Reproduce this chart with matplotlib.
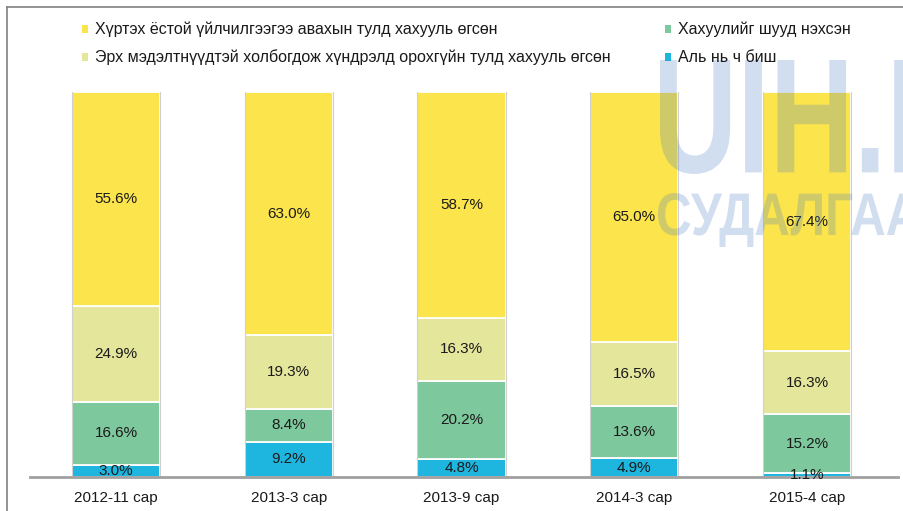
import numpy as np
import matplotlib
matplotlib.use("Agg")
from matplotlib import pyplot as plt
from matplotlib.patches import Rectangle, PathPatch
from matplotlib.lines import Line2D
from matplotlib.textpath import TextPath
from matplotlib.font_manager import FontProperties
from matplotlib.transforms import Affine2D

plt.rcParams['font.family'] = ['Liberation Sans', 'DejaVu Sans']

# data
periods = ['2012-11 сар', '2013-3 сар', '2013-9 сар', '2014-3 сар', '2015-4 сар']
series_names = [
    'Хүртэх ёстой үйлчилгээгээ авахын тулд хахууль өгсөн',
    'Эрх мэдэлтнүүдтэй холбогдож хүндрэлд орохгүйн тулд хахууль өгсөн',
    'Хахуулийг шууд нэхсэн',
    'Аль нь ч биш',
]
neither = [3.0, 9.2, 4.8, 4.9, 1.1]
demanded = [16.6, 8.4, 20.2, 13.6, 15.2]
avoid_trouble = [24.9, 19.3, 16.3, 16.5, 16.3]
to_get_service = [55.6, 63.0, 58.7, 65.0, 67.4]

colors = ['#fbe44c', '#e4e69c', '#7ec89d', '#1eb6df']

W, H = 904, 511
fig = plt.figure(figsize=(W / 100, H / 100), dpi=100)

# axes placed in pixel terms
left_px, right_px, top_px, base_px = 30, 898, 92, 477
ax = fig.add_axes([left_px / W, 1 - base_px / H, (right_px - left_px) / W, (base_px - top_px) / H])

x = np.arange(len(periods))
step = 172.75
ax.set_xlim(-(116 - left_px) / step, len(periods) - 1 + (right_px - 807) / step)
ax.set_ylim(0, 100)

stack = [neither, demanded, avoid_trouble, to_get_service]
stack_colors = [colors[3], colors[2], colors[1], colors[0]]
bottom = np.zeros(len(periods))
for vals, c in zip(stack, stack_colors):
    vals = np.array(vals)
    ax.bar(x, vals, bottom=bottom, width=0.51, color=c, edgecolor='white', linewidth=1.3, zorder=2)
    for xi, b, v in zip(x, bottom, vals):
        ax.text(xi, b + v / 2, f'{v:.1f}%', ha='center', va='center', fontsize=11,
                color='#1a1a1a', zorder=4)
    bottom += vals

# light gray side outlines of bars
for xi, top in zip(x, bottom):
    ax.plot([xi - 0.255, xi - 0.255], [0, top], color='#d0d0d0', lw=0.8, zorder=3)
    ax.plot([xi + 0.255, xi + 0.255], [0, top], color='#d0d0d0', lw=0.8, zorder=3)

for s in ax.spines.values():
    s.set_visible(False)
ax.spines['bottom'].set_visible(True)
ax.spines['bottom'].set_color('#a0a0a0')
ax.spines['bottom'].set_linewidth(2)
ax.spines['bottom'].set_zorder(3)
ax.set_yticks([])
ax.set_xticks(x)
ax.set_xticklabels(periods, fontsize=11, color='#1a1a1a')
ax.tick_params(axis='x', length=0, pad=10)

# legend drawn by hand
leg = [(82, 29, 0), (82, 57, 1), (665, 29, 2), (665, 57, 3)]
for px, py, i in leg:
    fig.add_artist(Rectangle((px / W, 1 - (py + 4) / H), 6 / W, 8 / H,
                             transform=fig.transFigure, color=colors[i], lw=0))
    fig.text((px + 13) / W, 1 - py / H, series_names[i], ha='left', va='center',
             fontsize=11.5, color='#1a1a1a')

# frame around the figure (top and left)
fig.add_artist(Line2D([7 / W, 7 / W], [0, 1 - 7 / H], transform=fig.transFigure, color='#808080', lw=1.2))
fig.add_artist(Line2D([7 / W, 1], [1 - 7 / H, 1 - 7 / H], transform=fig.transFigure, color='#808080', lw=1.2))


# faint watermark, condensed by scaling the glyph outlines (pixel coords)
def watermark(txt, x0, y_bottom, cap_h, width):
    tp = TextPath((0, 0), txt, size=100, prop=FontProperties(family='Liberation Sans', weight='bold'))
    ext = tp.get_extents()
    sx = width / ext.width
    sy = cap_h / ext.height
    tr = Affine2D().translate(-ext.x0, -ext.y0).scale(sx, sy).translate(x0, H - y_bottom)
    fig.add_artist(PathPatch(tr.transform_path(tp), transform=None, facecolor='#4a7fc1',
                             edgecolor='none', alpha=0.25, zorder=1))


watermark('UIH.MN', 660, 174, 114, 400)
watermark('СУДАЛГАА', 658, 247, 54, 262)

fig.savefig('out.png', dpi=100)
